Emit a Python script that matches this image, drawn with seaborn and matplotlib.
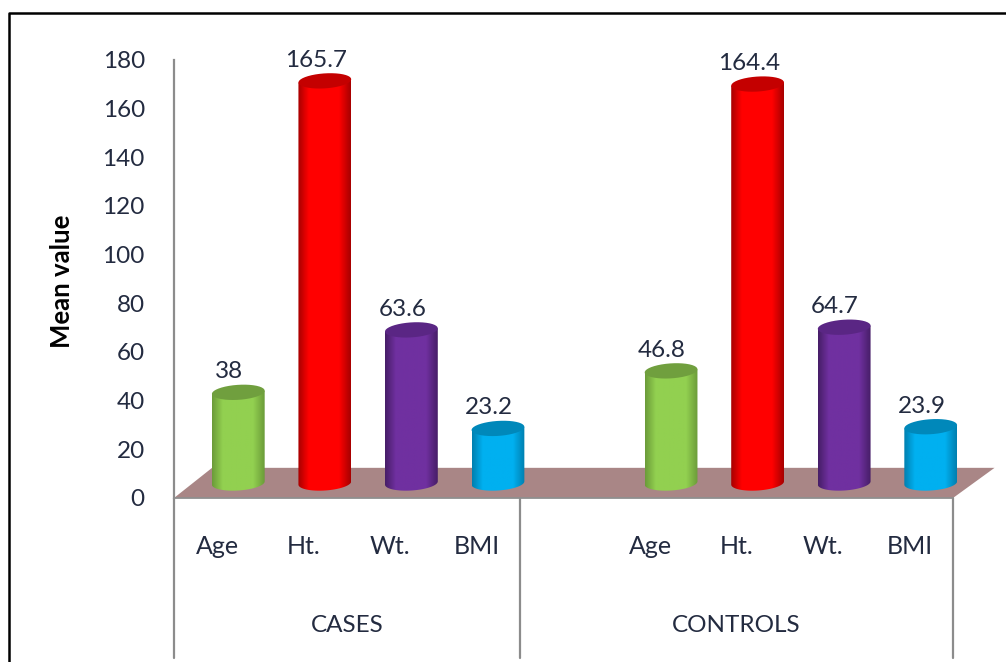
import numpy as np
import pandas as pd
import seaborn as sns
import matplotlib
matplotlib.use("Agg")
import matplotlib.pyplot as plt
from matplotlib.lines import Line2D
from matplotlib.patches import Polygon
from matplotlib.path import Path
from matplotlib.transforms import IdentityTransform, blended_transform_factory

# values
measures = ["Age", "Ht.", "Wt.", "BMI"]
groups = ["CASES", "CONTROLS"]
cases_values = [38, 165.7, 63.6, 23.2]
controls_values = [46.8, 164.4, 64.7, 23.9]
y_ticks = list(range(0, 181, 20))

base_colors = {"Age": "#92D050", "Ht.": "#FF0000", "Wt.": "#7030A0", "BMI": "#00B0F0"}
edge_colors = {"Age": "#6C9C3A", "Ht.": "#A80000", "Wt.": "#471E68", "BMI": "#0080B0"}
top_colors = {"Age": "#709F3E", "Ht.": "#C40000", "Wt.": "#5A2684", "BMI": "#0088BA"}

TEXT = "#232B40"
LINE = "#8C8C8C"
W, H = 1006, 662

sns.set_theme(style="white")
plt.rcParams["font.family"] = ["Lato", "DejaVu Sans"]

df = pd.DataFrame({
    "slot": [f"{groups[0]} {m}" for m in measures] + [f"{groups[1]} {m}" for m in measures],
    "measure": measures * 2,
    "value": cases_values + controls_values,
})
order = [f"{groups[0]} {m}" for m in measures] + [" "] + [f"{groups[1]} {m}" for m in measures]
tick_labels = measures + [""] + measures


def px_axes(fig, left, right, top, bottom, **kw):
    return fig.add_axes([left / W, 1 - bottom / H, (right - left) / W, (bottom - top) / H], **kw)


fig = plt.figure(figsize=(W / 100, H / 100), dpi=100, facecolor="white")
# the black frame only shows on the left and top of the picture
frame_x = [8.5 / W, 8.5 / W, 1]
frame_y = [0, 1 - 13 / H, 1 - 13 / H]
fig.add_artist(Line2D(frame_x, frame_y, transform=fig.transFigure, color="black", lw=1.8))

# front plane: axis, floor, category labels
ax = px_axes(fig, 174, 953, 60, 498)
ax.set_xlim(-0.5, 8.5)
ax.set_ylim(0, 180)
ax.set_yticks(y_ticks)
ax.set_xticks(range(9))
ax.set_xticklabels(tick_labels)
ax.tick_params(axis="y", length=0, pad=21, labelsize=17.5, labelcolor=TEXT)
ax.tick_params(axis="x", length=0, pad=27, labelsize=18, labelcolor=TEXT)
for label in ax.get_yticklabels():
    label.set_verticalalignment("center_baseline")
for side in ["top", "right", "bottom"]:
    ax.spines[side].set_visible(False)
ax.spines["left"].set_color(LINE)
ax.spines["left"].set_linewidth(1.6)
ax.set_ylabel("Mean value", fontsize=18.5, fontweight="bold", color="black")
ax.yaxis.set_label_coords(-0.128, 0.495)

floor = Polygon([(-0.5, 0), (-0.06, 12.4), (8.98, 12.4), (8.5, 0)], closed=True,
                facecolor="#A98686", edgecolor="none", clip_on=False, zorder=2)
ax.add_patch(floor)
ax.plot([-0.5, 8.5], [0, 0], color="#8F8F8F", lw=1.3, clip_on=False, zorder=3)

# separators and group labels hang below the axis
trans = blended_transform_factory(ax.transData, ax.transAxes)
for x in [-0.5, 3.5, 8.5]:
    ax.plot([x, x], [0, -160 / 438], color=LINE, lw=1.6, transform=trans, clip_on=False)
ax.text(1.5, -128 / 438, groups[0], transform=trans, ha="center", va="center",
        fontsize=17.5, color=TEXT)
ax.text(6.0, -128 / 438, groups[1], transform=trans, ha="center", va="center",
        fontsize=17.5, color=TEXT)

# bars sit on a plane pushed back into the fake 3D depth
bar_ax = px_axes(fig, 195, 974, 46, 485)
bar_ax.patch.set_alpha(0)
sns.barplot(data=df, x="slot", y="value", hue="measure", order=order, hue_order=measures,
            palette=base_colors, dodge=False, width=0.61, legend=False, ax=bar_ax)
bar_ax.set_xlim(-0.5, 8.5)
bar_ax.set_ylim(0, 180)
bar_ax.axis("off")


def ellipse_points(cx, cy, a, b, start, stop, n=40):
    t = np.linspace(start, stop, n)
    x = cx + a * np.cos(t)
    y = cy + b * np.sin(t) + (x - cx) * np.tan(np.radians(3.5))
    return np.column_stack([x, y])


def bar_gradient(measure):
    stops = [0, 0.2, 0.5, 0.78, 1]
    base = np.array(matplotlib.colors.to_rgb(base_colors[measure]))
    edge = np.array(matplotlib.colors.to_rgb(edge_colors[measure]))
    cols = [edge, base, base, base, edge]
    pos = np.linspace(0, 1, 64)
    return np.stack([np.interp(pos, stops, [c[i] for c in cols]) for i in range(3)], axis=1)[None, :, :]


B = 7.5
for measure, container in zip(measures, bar_ax.containers):
    for bar in container:
        val = bar.get_height()
        if not val or np.isnan(val):
            continue
        # seaborn's flat rectangle is hidden, the shaded body replaces it
        bar.set_visible(False)
        x0 = bar.get_x()
        x1 = x0 + bar.get_width()
        (px0, py0), (px1, py1) = bar_ax.transData.transform([(x0, 0), (x1, val)])
        cx, a = (px0 + px1) / 2, (px1 - px0) / 2
        lower = ellipse_points(cx, py0 + 2, a, B, np.pi, 2 * np.pi)
        tilt = a * np.tan(np.radians(3.5))
        body = np.vstack([lower, [px1, py1 + tilt], [px0, py1 - tilt]])
        im = bar_ax.imshow(bar_gradient(measure), extent=[x0, x1, -8, val + 8], aspect="auto",
                           interpolation="bilinear", zorder=3)
        im.set_clip_box(fig.bbox)
        im.set_clip_path(Path(np.vstack([body, body[0]]), closed=True), IdentityTransform())
        cap = ellipse_points(cx, py1, a, B, 0, 2 * np.pi)
        fig.add_artist(Polygon(cap, closed=True, transform=IdentityTransform(),
                               facecolor=top_colors[measure], edgecolor="none"))
        bar_ax.annotate(f"{val:g}", xy=(bar.get_x() + bar.get_width() / 2, val),
                        xytext=(-9, 10), textcoords="offset pixels", ha="center", va="bottom",
                        fontsize=17.5, color=TEXT, annotation_clip=False, zorder=5)
bar_ax.set_xlim(-0.5, 8.5)
bar_ax.set_ylim(0, 180)

fig.savefig("out.png", dpi=100)
